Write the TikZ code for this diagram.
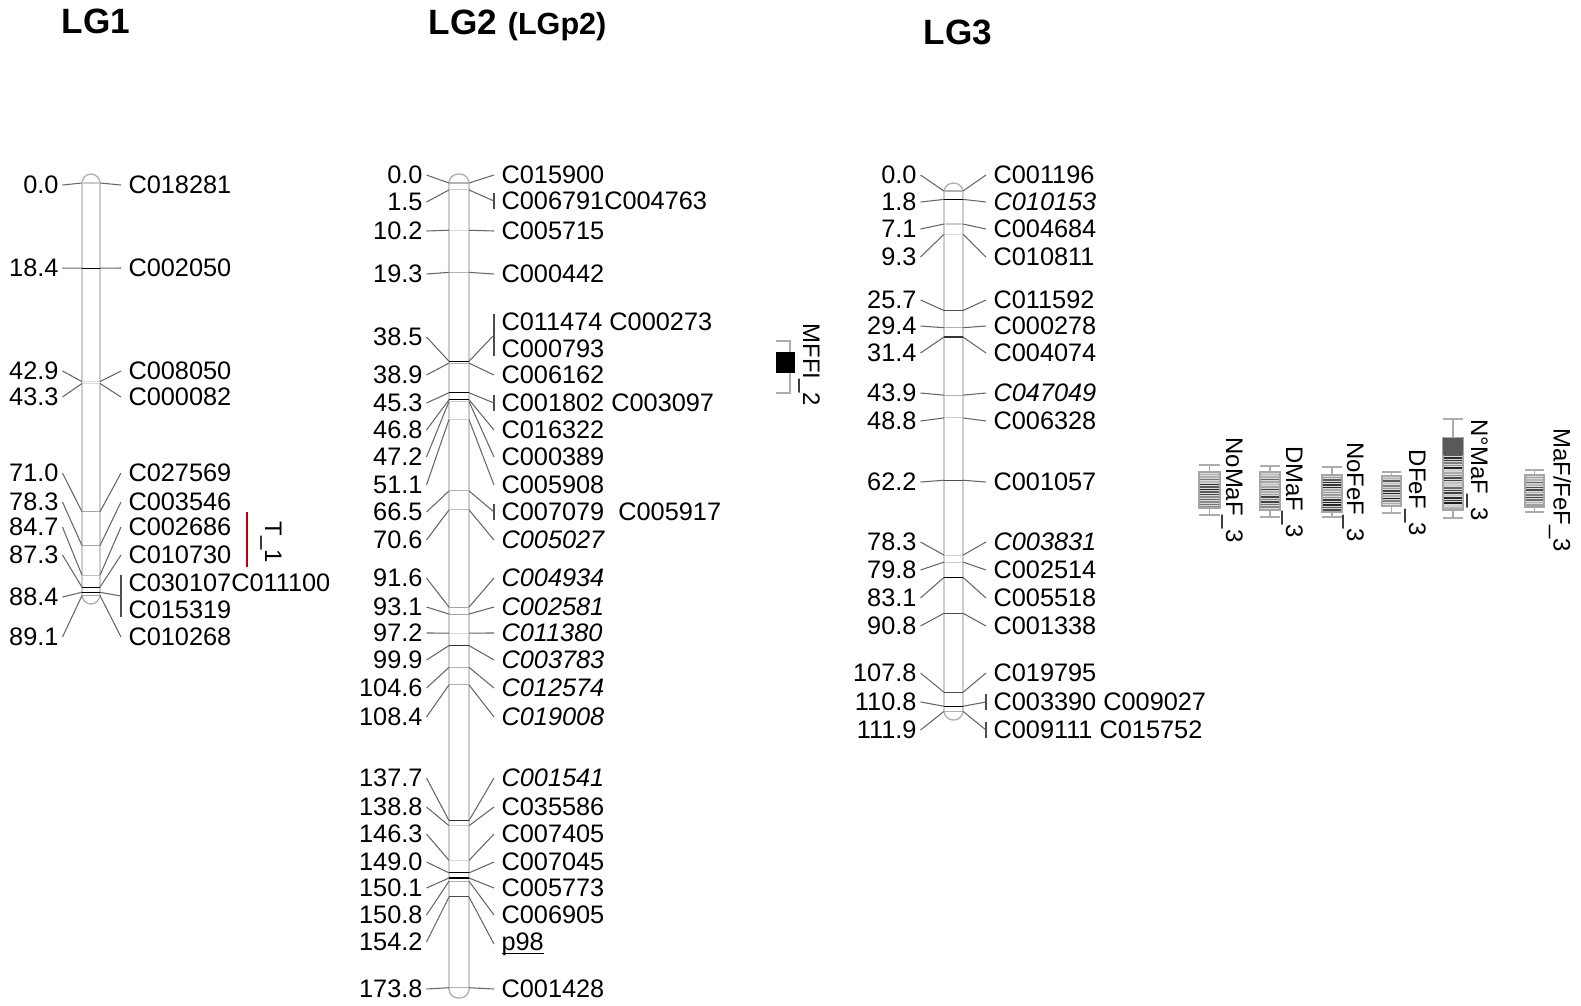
\documentclass[tikz,border=0pt]{standalone}
\usepackage{fontspec}
\setmainfont{Liberation Sans}
\usetikzlibrary{positioning}
\tikzset{
  every picture/.style={line width=0.3pt},
  cmv/.style={anchor=east, inner xsep=1pt, inner ysep=1pt, font=\fontsize{7.2}{7.7}\selectfont},
  mk/.style={anchor=west, inner xsep=2pt, inner ysep=1pt, align=left, font=\fontsize{7.2}{7.7}\selectfont},
  mkb/.style={mk, append after command={([yshift=-1.5pt]\tikzlastnode.north west) edge[draw=black!70] ([yshift=1.5pt]\tikzlastnode.south west)}},
  lnk/.style={draw=black!60},
  chrom/.style={draw=gray!60, line width=0.4pt, rounded corners=2.6pt},
  ttl/.style={inner sep=0pt, font=\bfseries\fontsize{10}{12}\selectfont},
  qlab/.style={rotate=-90, inner sep=0pt, font=\fontsize{6.8}{8}\selectfont},
  whisk/.style={draw=gray!65},
}
\begin{document}
\begin{tikzpicture}[x=0.01cm, y=-0.01cm]
  \useasboundingbox (0,0) rectangle (1581,1005);
  \node[ttl] (lg1) at (96,21) {LG1};
  \node[ttl, anchor=west] (lg2) at (428,22) {LG2};
  \node[ttl, font=\bfseries\fontsize{8.7}{10}\selectfont, anchor=base west] (lgp2) at ([xshift=2.8pt]lg2.base east) {(LGp2)};
  \node[ttl] (lg3) at (958,32) {LG3};

  % LG1
  \draw[chrom] (82,174) rectangle (100,604);
  \foreach \cv/\ly/\sh [count=\i] in {0.0/185/gray!40, 18.4/268/black, 42.9/371/gray!30, 43.3/397/gray!30, 71.0/473/gray!70, 78.3/502/gray!70, 84.7/527/gray!50, 87.3/555/black, 88.4/597/black, 89.1/637/gray!70} {
    \pgfmathsetmacro\my{183+4.63*\cv}
    \draw[\sh] (82,\my) -- (100,\my);
    \coordinate (p1l\i) at (82,\my);
    \node[cmv] (v1\i) at (62.5,\ly) {\cv};
    \draw[lnk] (v1\i.east) -- (p1l\i);
  }
  \foreach \cv/\ry/\nm/\st [count=\i] in {0.0/185/C018281/mk, 18.4/268/C002050/mk, 42.9/371/C008050/mk, 43.3/397/C000082/mk, 71.0/473/C027569/mk, 78.3/502/C003546/mk, 84.7/527/C002686/mk, 87.3/555/C010730/mk, 88.4/596/{C030107C011100\\C015319}/mkb, 89.1/637/C010268/mk} {
    \pgfmathsetmacro\my{183+4.63*\cv}
    \coordinate (p1r\i) at (100,\my);
    \node[\st] (n1\i) at (121,\ry) {\nm};
    \draw[lnk] (p1r\i) -- (n1\i.west);
  }
  \draw[red!75!black, line width=0.6pt] (247,512) -- (247,567);
  \node[qlab] (t1) at (271,542) {T\_1};

  % LG2
  \draw[chrom] (449,174) rectangle (469,998);
  \foreach \cv/\ly/\sh [count=\i] in {0.0/175/gray!60, 1.5/202/gray!40, 10.2/231/gray!30, 19.3/274/gray!60, 38.5/337/black, 38.9/375/gray!60, 45.3/403/black, 46.8/430/black, 47.2/457/gray!40, 51.1/485/gray!40, 66.5/512/gray!60, 70.6/540/gray!50, 91.6/578/gray!70, 93.1/607/gray!70, 97.2/633/gray!30, 99.9/660/black!80, 104.6/688/gray!60, 108.4/717/gray!60, 137.7/778/black!80, 138.8/807/gray!40, 146.3/834/gray!30, 149.0/862/black, 150.1/888/black, 150.8/915/gray!60, 154.2/942/black!70, 173.8/989/gray!60} {
    \pgfmathsetmacro\my{183+4.63*\cv}
    \draw[\sh] (449,\my) -- (469,\my);
    \coordinate (p2l\i) at (449,\my);
    \node[cmv] (v2\i) at (426.5,\ly) {\cv};
    \draw[lnk] (v2\i.east) -- (p2l\i);
  }
  \foreach \cv/\ry/\nm/\st [count=\i] in {0.0/175/C015900/mk, 1.5/201/C006791C004763/mkb, 10.2/231/C005715/mk, 19.3/274/C000442/mk, 38.5/335/{C011474 C000273\\C000793}/mkb, 38.9/375/C006162/mk, 45.3/403/{C001802 C003097}/mkb, 46.8/430/C016322/mk, 47.2/457/C000389/mk, 51.1/485/C005908/mk, 66.5/512/{C007079~~C005917}/mkb, 70.6/540/\textit{C005027}/mk, 91.6/578/\textit{C004934}/mk, 93.1/607/\textit{C002581}/mk, 97.2/633/\textit{C011380}/mk, 99.9/660/\textit{C003783}/mk, 104.6/688/\textit{C012574}/mk, 108.4/717/\textit{C019008}/mk, 137.7/778/\textit{C001541}/mk, 138.8/807/C035586/mk, 146.3/834/C007405/mk, 149.0/862/C007045/mk, 150.1/888/C005773/mk, 150.8/915/C006905/mk, 154.2/944/{\rlap{\rule[-1.2pt]{12pt}{0.4pt}}p98}/mk, 173.8/989/C001428/mk} {
    \pgfmathsetmacro\my{183+4.63*\cv}
    \coordinate (p2r\i) at (469,\my);
    \node[\st] (n2\i) at (494,\ry) {\nm};
    \draw[lnk] (p2r\i) -- (n2\i.west);
  }
  \draw[whisk] (776,341) -- (790,341) -- (790,393) -- (776,393);
  \fill[black] (776,352) rectangle (795,373);
  \node[qlab] (mffi) at (809,365) {MFFI\_2};

  % LG3
  \draw[chrom] (944,183) rectangle (963,720);
  \foreach \cv/\ly/\sh [count=\i] in {0.0/175/gray!60, 1.8/202/black, 7.1/229/gray!40, 9.3/257/gray!30, 25.7/300/black!70, 29.4/326/gray!60, 31.4/353/black!80, 43.9/393/gray!60, 48.8/421/gray!40, 62.2/482/black!70, 78.3/542/gray!40, 79.8/570/gray!40, 83.1/598/black, 90.8/626/black!70, 107.8/673/black!70, 110.8/702/black, 111.9/730/gray!60} {
    \pgfmathsetmacro\my{191+4.65*\cv}
    \draw[\sh] (944,\my) -- (963,\my);
    \coordinate (p3l\i) at (944,\my);
    \node[cmv] (v3\i) at (920.5,\ly) {\cv};
    \draw[lnk] (v3\i.east) -- (p3l\i);
  }
  \foreach \cv/\ry/\nm/\st [count=\i] in {0.0/175/C001196/mk, 1.8/202/\textit{C010153}/mk, 7.1/229/C004684/mk, 9.3/257/C010811/mk, 25.7/300/C011592/mk, 29.4/326/C000278/mk, 31.4/353/C004074/mk, 43.9/393/\textit{C047049}/mk, 48.8/421/C006328/mk, 62.2/482/C001057/mk, 78.3/542/\textit{C003831}/mk, 79.8/570/C002514/mk, 83.1/598/C005518/mk, 90.8/626/C001338/mk, 107.8/673/C019795/mk, 110.8/702/{C003390 C009027}/mkb, 111.9/730/{C009111 C015752}/mkb} {
    \pgfmathsetmacro\my{191+4.65*\cv}
    \coordinate (p3r\i) at (963,\my);
    \node[\st] (n3\i) at (986,\ry) {\nm};
    \draw[lnk] (p3r\i) -- (n3\i.west);
  }

  % QTL on LG3
  \pgfmathsetseed{7}
  \foreach \n/\xa/\xb/\wt/\ya/\yb/\wb/\lx/\ly/\nm in {1/1199/1220/465/472/508/515/1232/490/NoMaF\_3, 2/1260/1280/466/472/510/517/1292/492/DMaF\_3, 3/1322/1342/467/475/512/517/1353/492/NoFeF\_3, 4/1382/1401/472/476/506/513/1415/493/DFeF\_3, 5/1443/1463/419/438/510/518/1477/470/N°MaF\_3, 6/1525/1544/470/475/507/512/1560/490/{MaF/FeF\_3}} {
    \pgfmathsetmacro\xc{(\xa+\xb)/2}
    \draw[whisk] (\xa,\wt) -- (\xb,\wt) (\xc,\wt) -- (\xc,\wb) (\xa,\wb) -- (\xb,\wb);
    \fill[gray!30] (\xa,\ya) rectangle (\xb,\yb);
    \pgfmathtruncatemacro\N{(\yb-\ya)/2.5}
    \foreach \k in {0,...,\N} {
      \pgfmathtruncatemacro\g{20+70*rnd}
      \draw[black!\g, line width=0.45pt] (\xa,\ya+2.5*\k) -- (\xb,\ya+2.5*\k);
    }
    \draw[gray!70] (\xa,\ya) rectangle (\xb,\yb);
    \node[qlab] (q\n) at (\lx,\ly) {\nm};
  }
  \fill[black!65] (1443,438) rectangle (1463,455);
\end{tikzpicture}
\end{document}
